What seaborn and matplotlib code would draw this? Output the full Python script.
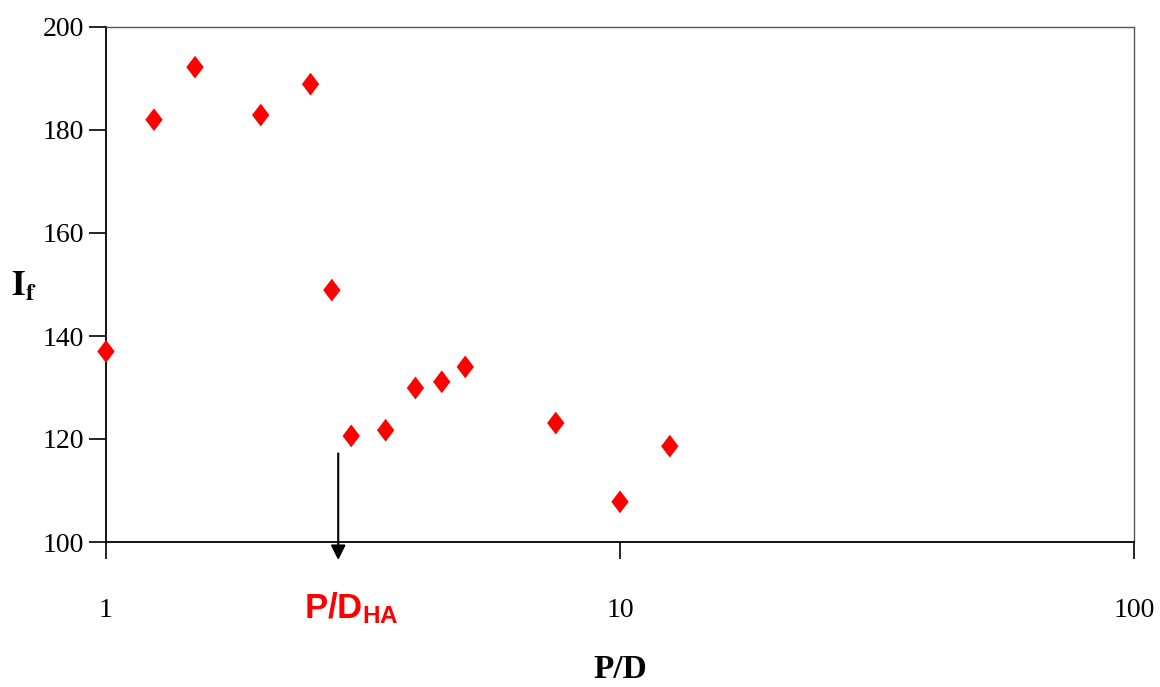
import numpy as np
import pandas as pd
import seaborn as sns
import matplotlib.pyplot as plt
import matplotlib.ticker as ticker
from matplotlib.path import Path

# data
pd_ratio = [1.0, 1.24, 1.49, 2.0, 2.5, 2.75, 3.0, 3.5, 4.0, 4.5, 5.0, 7.5, 10.0, 12.5]
i_f = [137, 182, 192.2, 182.9, 188.9, 148.9, 120.6, 121.7, 129.9, 131.1, 134.0, 123.1, 107.8, 118.6]
pd_ha = 2.83
x_ticks = [1, 10, 100]
y_ticks = [100, 120, 140, 160, 180, 200]

df = pd.DataFrame({"P/D": pd_ratio, "If": i_f})

sns.set_style("white")
plt.rcParams['font.family'] = ['Liberation Serif', 'DejaVu Serif']
plt.rcParams['text.color'] = 'black'
plt.rcParams['axes.labelcolor'] = 'black'
plt.rcParams['xtick.color'] = 'black'
plt.rcParams['ytick.color'] = 'black'
plt.rcParams['mathtext.fontset'] = 'custom'
plt.rcParams['mathtext.bf'] = 'Liberation Sans:bold'
plt.rcParams['mathtext.rm'] = 'Liberation Sans'

# slightly tall diamond
diamond = Path([(0, 1), (0.76, 0), (0, -1), (-0.76, 0), (0, 1)],
               [Path.MOVETO, Path.LINETO, Path.LINETO, Path.LINETO, Path.CLOSEPOLY])

fig = plt.figure(figsize=(11.6, 6.87), dpi=100)
ax = fig.add_axes([106 / 1160, 1 - 542 / 687, (1134 - 106) / 1160, (542 - 27) / 687])

sns.scatterplot(data=df, x="P/D", y="If", ax=ax, marker=diamond, color="red",
                s=270, edgecolor="none", zorder=3, clip_on=False)

ax.set_xscale("log")
ax.set_xlim(1, 100)
ax.set_ylim(100, 200)
ax.xaxis.set_major_locator(ticker.FixedLocator(x_ticks))
ax.xaxis.set_minor_locator(ticker.NullLocator())
ax.xaxis.set_major_formatter(ticker.FixedFormatter([str(t) for t in x_ticks]))
ax.set_yticks(y_ticks)

for side in ["left", "bottom"]:
    ax.spines[side].set_color("black")
    ax.spines[side].set_linewidth(1.3)
for side in ["top", "right"]:
    ax.spines[side].set_color("#555555")
    ax.spines[side].set_linewidth(1.0)

ax.tick_params(axis="both", which="major", direction="out", length=12, width=1.2,
               labelsize=20, color="black", left=True, bottom=True)
ax.tick_params(axis="x", pad=28)
ax.tick_params(axis="y", pad=4)

ax.set_xlabel("")
ax.set_ylabel("")
fig.text(620 / 1160, 1 - 670 / 687, "P/D", fontsize=24, fontweight="bold",
         ha="center", va="center")
fig.text(24 / 1160, 1 - 287 / 687, r"$\mathbf{I_f}$", fontsize=25,
         ha="center", va="center", math_fontfamily="stix")

# arrow marking P/D_HA
ax.annotate("", xy=(pd_ha, 96.5), xytext=(pd_ha, 117.2),
            arrowprops=dict(arrowstyle="-|>", color="black", lw=1.5,
                            mutation_scale=22, shrinkA=0, shrinkB=0),
            annotation_clip=False)
fig.text(304 / 1160, 1 - 608 / 687, r"$\mathbf{P/D_{HA}}$", color="red", fontsize=25,
         ha="left", va="center", math_fontfamily="custom")

fig.savefig("out.png", dpi=100)
plt.close()
